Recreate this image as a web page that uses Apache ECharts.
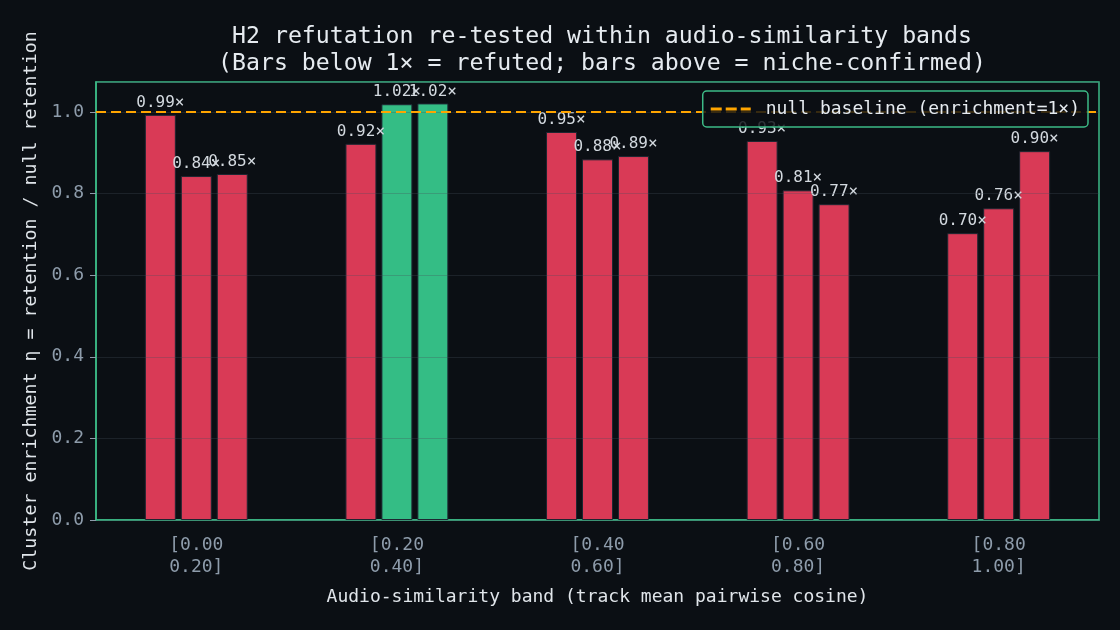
<!DOCTYPE html>
<html>
<head>
<meta charset="utf-8">
<script src="https://cdn.jsdelivr.net/npm/echarts@6/dist/echarts.min.js"></script>
<style>
  html, body { margin: 0; padding: 0; background: #0b0f14; }
  #chart { width: 1120px; height: 630px; }
</style>
</head>
<body>
<div id="chart"></div>
<script>
const bands = ['[0.00\n0.20]', '[0.20\n0.40]', '[0.40\n0.60]', '[0.60\n0.80]', '[0.80\n1.00]'];
const subsetA = [0.993, 0.922, 0.951, 0.929, 0.703];
const subsetB = [0.843, 1.019, 0.884, 0.808, 0.764];
const subsetC = [0.848, 1.021, 0.892, 0.774, 0.904];
const yTicks = [0, 0.2, 0.4, 0.6, 0.8, 1.0];
const nullBaseline = 1;

const MONO = '"DejaVu Sans Mono", monospace';
const FRAME = '#3dbb87';
const RED = '#d93a56';
const GREEN = '#34bd85';
const TICK_TEXT = '#8e9cab';

function barSeries(name, values) {
  return {
    name: name,
    type: 'bar',
    data: values,
    barWidth: 31,
    barGap: '16%',
    z: 2,
    itemStyle: {
      color: function(p) { return p.value > nullBaseline ? GREEN : RED; },
      borderColor: '#1d2631',
      borderWidth: 1
    },
    label: {
      show: true,
      position: 'top',
      distance: 4,
      color: '#d3d9df',
      fontFamily: MONO,
      fontSize: 16,
      formatter: function(p) { return p.value.toFixed(2) + '×'; }
    }
  };
}

const chart = echarts.init(document.getElementById('chart'));
chart.setOption({
  backgroundColor: '#0b0f14',
  animation: false,
  title: {
    text: 'H2 refutation re-tested within audio-similarity bands\n(Bars below 1× = refuted; bars above = niche-confirmed)',
    left: 597,
    top: 18,
    textAlign: 'center',
    textStyle: { color: '#e6ebf0', fontFamily: MONO, fontSize: 23.2, fontWeight: 'normal', lineHeight: 27 }
  },
  legend: {
    data: ['null baseline (enrichment=1×)'],
    right: 32,
    top: 91,
    z: 6,
    padding: [9, 8, 9, 8],
    backgroundColor: 'rgba(11,15,20,0.82)',
    borderColor: FRAME,
    borderWidth: 1.5,
    borderRadius: 4,
    icon: 'path://M0,0h11v3h-11z M15,0h11v3h-11z M30,0h10v3h-10z',
    itemWidth: 40,
    itemHeight: 3,
    textStyle: { color: '#e6ebf0', fontFamily: MONO, fontSize: 18, padding: [0, 0, 0, 10] }
  },
  grid: {
    left: 96, right: 21, top: 82, bottom: 110,
    show: true, borderColor: FRAME, borderWidth: 1.5, backgroundColor: 'transparent'
  },
  xAxis: {
    type: 'category',
    data: bands,
    name: 'Audio-similarity band (track mean pairwise cosine)',
    nameLocation: 'middle',
    nameGap: 68,
    nameTextStyle: { color: '#e0e5ea', fontFamily: MONO, fontSize: 18 },
    axisLine: { lineStyle: { color: FRAME, width: 1.5 } },
    axisTick: { alignWithLabel: true, length: 6, lineStyle: { color: TICK_TEXT } },
    axisLabel: { color: TICK_TEXT, fontFamily: MONO, fontSize: 18, lineHeight: 22, margin: 14 }
  },
  yAxis: {
    type: 'value',
    min: 0,
    max: 1.0735,
    interval: 0.2,
    z: 3,
    name: 'Cluster enrichment η = retention / null retention',
    nameLocation: 'middle',
    nameGap: 56,
    nameTextStyle: { color: '#e0e5ea', fontFamily: MONO, fontSize: 18.3 },
    axisLine: { show: true, lineStyle: { color: FRAME, width: 1.5 } },
    axisTick: { show: true, length: 6, lineStyle: { color: TICK_TEXT } },
    splitLine: { show: true, lineStyle: { color: 'rgba(70,80,92,0.3)', width: 1 } },
    axisLabel: {
      color: TICK_TEXT, fontFamily: MONO, fontSize: 18, margin: 12, showMaxLabel: false,
      formatter: function(v) {
        return yTicks.some(t => Math.abs(t - v) < 1e-6) ? v.toFixed(1) : '';
      }
    }
  },
  series: [
    barSeries('subset A', subsetA),
    barSeries('subset B', subsetB),
    barSeries('subset C', subsetC),
    {
      name: 'null baseline (enrichment=1×)',
      type: 'line',
      data: [],
      z: 4,
      itemStyle: { color: '#ffa500' },
      lineStyle: { color: '#ffa500' },
      markLine: {
        silent: true,
        symbol: 'none',
        label: { show: false },
        lineStyle: { color: '#ffa500', type: [10, 5], width: 2.2 },
        data: [{ yAxis: nullBaseline }]
      }
    }
  ]
});
</script>
</body>
</html>
